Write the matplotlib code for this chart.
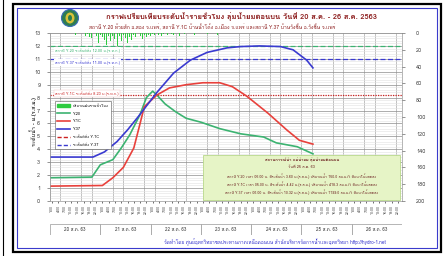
import numpy as np
import matplotlib
matplotlib.use("Agg")
import matplotlib.pyplot as plt
from matplotlib import font_manager
from matplotlib.ft2font import FT2Font
from matplotlib.patches import Rectangle, Ellipse, Patch
from matplotlib.lines import Line2D

# หา font ที่มีอักษรไทย
thai_fonts = []
for fe in font_manager.fontManager.ttflist:
    if fe.name in thai_fonts:
        continue
    try:
        if FT2Font(fe.fname).get_char_index(0x0E01):
            thai_fonts.append(fe.name)
    except Exception:
        pass
plt.rcParams['font.family'] = thai_fonts[:1] + ['DejaVu Sans']

# ข้อมูล (ชั่วโมงนับจาก 20 ส.ค. 00:00)
days = ["20 ส.ค. 63", "21 ส.ค. 63", "22 ส.ค. 63", "23 ส.ค. 63",
        "24 ส.ค. 63", "25 ส.ค. 63", "26 ส.ค. 63"]

y20_hr = [0, 20, 24, 30, 34, 38, 43, 46, 49, 51, 55, 60, 65, 72, 81, 91, 102, 108, 118, 125.5]
y20_lv = [1.8, 1.85, 2.8, 3.2, 4.1, 5.1, 6.7, 8.0, 8.5, 8.2, 7.5, 6.9, 6.4, 6.1, 5.6, 5.2, 4.95, 4.5, 4.2, 3.65]

y1c_hr = [0, 25, 30, 35, 40, 43, 45, 51, 57, 65, 73, 81, 87, 94, 104, 113, 119, 125.5]
y1c_lv = [1.15, 1.2, 1.8, 2.6, 4.1, 6.0, 7.3, 8.2, 8.75, 9.0, 9.15, 9.15, 8.85, 8.1, 6.8, 5.5, 4.7, 4.4]

y37_hr = [0, 20.5, 26, 32, 37, 42, 51, 59, 67, 75, 84.5, 91, 100, 110, 116, 122.5, 125.5]
y37_lv = [3.4, 3.4, 3.8, 4.6, 5.5, 6.5, 8.4, 9.9, 10.9, 11.5, 11.85, 11.95, 12.0, 11.95, 11.7, 10.9, 10.3]

rain_hr = list(range(10, 83))
rain_mm = [0, 0, 2, 0, 0, 0, 0, 3, 1, 5, 6, 10, 4, 12, 2, 5, 8, 14, 4, 10,
           3, 7, 15, 4, 9, 2, 6, 12, 5, 8, 2, 5, 12, 3, 7, 2, 5, 2, 4, 1,
           2, 0, 2, 3, 1, 0, 2, 0, 1, 2, 0, 0, 3, 0, 1, 0, 0, 0, 0, 2,
           0, 0, 0, 0, 0, 1, 0, 0, 0, 0, 2, 0, 0]

bank_y20 = 12.0
bank_y37 = 11.0
bank_y1c = 8.2

tick_hr = list(range(1, 168, 3))
tick_lbl = ["%d:00" % (h % 24) for h in tick_hr]

c_y20 = "#3cb371"
c_y1c = "#e8413c"
c_y37 = "#3a3ad0"
c_rain = "#2ecc40"

fig = plt.figure(figsize=(4.46, 2.56), dpi=100)
fig.patch.set_facecolor("white")

ax = fig.add_axes([50/446, 1-201/256, 352/446, 168/256])
ax.set_xlim(0, 168)
ax.set_ylim(0, 13)
ax.set_yticks(range(0, 14))
ax.set_yticks(np.arange(0, 13.01, 0.2), minor=True)
ax.set_xticks(tick_hr)
ax.set_xticklabels(tick_lbl, rotation=90, fontsize=2.6, color="#444444")
ax.set_xticks(np.arange(0, 168.1, 5), minor=True)
ax.tick_params(axis="y", which="major", labelsize=4, colors="#444444", pad=5, length=2, width=0.4)
ax.tick_params(axis="x", which="major", pad=1.5, length=1.5, width=0.4)
ax.tick_params(which="minor", length=0)
ax.grid(which="minor", axis="y", color="#e2e2e2", lw=0.4)
ax.grid(which="major", axis="y", color="#8c8c8c", lw=0.5)
ax.grid(which="minor", axis="x", color="#a8a8a8", lw=0.5)
ax.set_axisbelow(True)
for s in ax.spines.values():
    s.set_color("#999999")
    s.set_linewidth(0.5)

ax.axhline(bank_y20, color=c_y20, ls=(0, (4, 2)), lw=0.9)
ax.axhline(bank_y37, color=c_y37, ls=(0, (4, 2)), lw=0.9)
ax.axhline(bank_y1c, color="#cc2222", ls=(0, (1, 1)), lw=0.9)

ax.plot(y20_hr, y20_lv, color=c_y20, lw=1.2)
ax.plot(y1c_hr, y1c_lv, color=c_y1c, lw=1.2)
ax.plot(y37_hr, y37_lv, color=c_y37, lw=1.2)

ax.text(2.5, 11.65, "สถานี Y.20 ระดับตลิ่ง 12.00 ม.(ร.ท.ก.)", color=c_y20, fontsize=2.8,
        va="center", bbox=dict(fc="white", ec="none", pad=0.8))
ax.text(2.5, 10.7, "สถานี Y.37 ระดับตลิ่ง 11.00 ม.(ร.ท.ก.)", color=c_y37, fontsize=2.8,
        va="center", bbox=dict(fc="white", ec="none", pad=0.8))
ax.text(2.5, 8.3, "สถานี Y.1C ระดับตลิ่ง 8.20 ม.(ร.ท.ก.)", color="#cc2222", fontsize=2.8,
        va="center", bbox=dict(fc="white", ec="#f0c0c0", lw=0.3, pad=0.8))

handles = [Patch(color=c_rain),
           Line2D([], [], color=c_y20, lw=1.2),
           Line2D([], [], color=c_y1c, lw=1.2),
           Line2D([], [], color=c_y37, lw=1.2),
           Line2D([], [], color="#cc2222", lw=1, ls=(0, (3, 1.5))),
           Line2D([], [], color=c_y37, lw=1, ls=(0, (3, 1.5)))]
labels = ["ปริมาณฝนรายชั่วโมง", "Y.20", "Y.1C", "Y.37", "ระดับตลิ่ง Y.1C", "ระดับตลิ่ง Y.37"]
leg = ax.legend(handles, labels, loc="upper left", bbox_to_anchor=(0.008, 0.605),
                fontsize=2.8, labelspacing=1.0, handlelength=3.2, handleheight=0.6,
                borderpad=0.6, fancybox=False, framealpha=1, edgecolor="#555555")
leg.get_frame().set_linewidth(0.4)
leg.set_zorder(6)

# กล่องสถานการณ์น้ำ
ax.add_patch(Rectangle((0.435, 0.004), 0.56, 0.27, transform=ax.transAxes,
                       fc="#e6f4c6", ec="#b8d88a", lw=0.6, zorder=7))
cx = 0.715
ax.text(cx, 0.245, "สถานการณ์น้ำ แม่น้ำยม ลุ่มน้ำยมตอนบน", transform=ax.transAxes,
        ha="center", va="center", fontsize=3, color="#6b1f1f", fontweight="bold", zorder=8)
ax.text(cx, 0.2, "วันที่ 25 ส.ค. 63", transform=ax.transAxes,
        ha="center", va="center", fontsize=2.8, color="#6b1f1f", zorder=8)
info = ["สถานี Y.20 เวลา 05.00 น. มีระดับน้ำ 3.60 ม.(ร.ส.ม.) ปริมาณน้ำ 150.0 ลบ.ม./วิ มีแนวโน้มลดลง",
        "สถานี Y.1C เวลา 05.00 น. มีระดับน้ำ 4.42 ม.(ร.ส.ม.) ปริมาณน้ำ 418.3 ลบ.ม./วิ มีแนวโน้มลดลง",
        "สถานี Y.37 เวลา 06.00 น. มีระดับน้ำ 10.32 ม.(ร.ส.ม.) ปริมาณน้ำ 1199.0 ลบ.ม./วิ มีแนวโน้มลดลง"]
for i, t in enumerate(info):
    ax.text(cx, 0.15 - i*0.05, t, transform=ax.transAxes, ha="center", va="center",
            fontsize=2.6, color="#6b1f1f", zorder=8)

# แกนฝน
ax2 = ax.twinx()
ax2.set_ylim(200, 0)
ax2.set_yticks(range(0, 201, 20))
ax2.tick_params(axis="y", labelsize=4, colors="#444444", pad=8, length=2, width=0.4)
ax2.bar(rain_hr, rain_mm, width=0.45, color=c_rain)
for s in ax2.spines.values():
    s.set_visible(False)

# แถบวันที่
axd = fig.add_axes([50/446, 1-235/256, 352/446, 11/256])
axd.set_xlim(0, 7)
axd.set_ylim(0, 1)
axd.axis("off")
for i, d in enumerate(days):
    axd.add_patch(Rectangle((i, 0), 1, 1, fc="white", ec="#999999", lw=0.5))
    axd.text(i + 0.5, 0.5, d, ha="center", va="center", fontsize=3.3, color="#333333")

fig.text(33/446, 1-122/256, "ระดับน้ำ - ม.(ร.ส.ม.)", rotation=90, ha="center", va="center",
         fontsize=4, color="#333333", fontweight="bold")

fig.text(242/446, 1-17/256, "กราฟเปรียบเทียบระดับน้ำรายชั่วโมง ลุ่มน้ำยมตอนบน วันที่ 20 ส.ค. - 26 ส.ค. 2563",
         ha="center", va="center", fontsize=5.5, color="#8b1a1a", fontweight="bold")
fig.text(212/446, 1-27/256, "สถานี Y.20 ห้วยสัก อ.สอง จ.แพร่, สถานี Y.1C บ้านน้ำโค้ง อ.เมือง จ.แพร่ และสถานี Y.37 บ้านวังชิ้น อ.วังชิ้น จ.แพร่",
         ha="center", va="center", fontsize=3.6, color="#8b1a1a")
fig.text(275/446, 1-242/256, "จัดทำโดย ศูนย์อุทกวิทยาชลประทานภาคเหนือตอนบน สำนักบริหารจัดการน้ำและอุทกวิทยา http://hydro-1.net",
         ha="center", va="center", fontsize=3.4, color="#3333cc")

# โลโก้
fig.add_artist(Ellipse((70/446, 1-18/256), 17/446, 17/256, transform=fig.transFigure,
                       fc="#2e7d4f", ec="#3b6fb6", lw=0.8))
fig.add_artist(Ellipse((70/446, 1-18/256), 9/446, 11/256, transform=fig.transFigure,
                       fc="#d8c23a", ec="none"))
fig.add_artist(Ellipse((70/446, 1-18/256), 4/446, 6/256, transform=fig.transFigure,
                       fc="#2e7d4f", ec="none"))

# กรอบ
fig.add_artist(Line2D([3/446, 3/446], [0, 1], transform=fig.transFigure, color="black", lw=0.8))
fig.add_artist(Rectangle((13/446, 1-252/256), 428/446, 248/256, transform=fig.transFigure,
                         fill=False, ec="black", lw=1.6))
fig.add_artist(Rectangle((17/446, 1-248/256), 420/446, 240/256, transform=fig.transFigure,
                         fill=False, ec="#3b3bcc", lw=0.8))

fig.savefig("out.png", dpi=100)
